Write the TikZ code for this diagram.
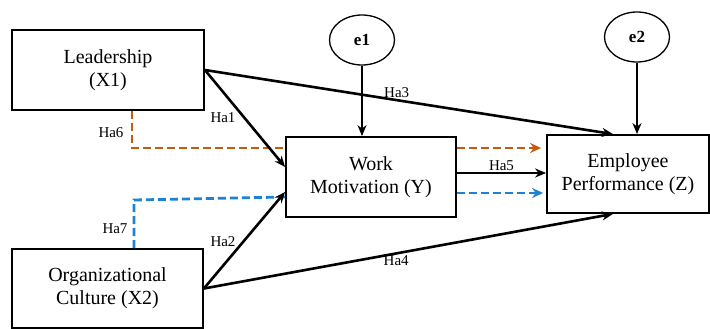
\documentclass[tikz,border=0pt]{standalone}
\usepackage{fontspec}
\setmainfont{Liberation Serif}
\usetikzlibrary{arrows.meta,calc,shapes.geometric}
\definecolor{orangeD}{RGB}{197,90,17}
\definecolor{blueD}{RGB}{30,130,210}
\begin{document}
\begin{tikzpicture}[x=1pt,y=-1pt,
  box/.style={draw,line width=1.8pt,fill=white,inner sep=0pt,align=center,
    font=\fontsize{20}{23}\selectfont},
  err/.style={draw,line width=1.3pt,ellipse,inner sep=0pt,minimum width=65pt,minimum height=50pt,
    font=\fontsize{17}{20}\selectfont\bfseries},
  path/.style={line width=2.6pt,-{Stealth[length=11pt,width=9pt]}},
  med/.style={line width=2.8pt,dash pattern=on 8pt off 4pt},
  medarr/.style={med,-{Stealth[length=11pt,width=10pt]}},
  lab/.style={font=\fontsize{15}{17}\selectfont,inner sep=1pt}]
\useasboundingbox (0,0) rectangle (710,329);
\node[box,minimum width=192pt,minimum height=80pt] (L) at (108,70) {Leadership\\(X1)};
\node[box,minimum width=191pt,minimum height=79pt] (O) at (107.5,288.5) {Organizational\\Culture (X2)};
\node[box,minimum width=170pt,minimum height=80pt] (W) at (371,177) {Work\\Motivation (Y)};
\node[box,minimum width=162pt,minimum height=78pt] (E) at (628,174) {Employee\\Performance (Z)};
\node[err] (e1) at (362,40) {e1};
\node[err] (e2) at (637,37) {e2};
% coordinates for dashed mediation paths
\coordinate (o1) at (132,148);
\coordinate (b1) at (134,200);
\draw[med,orangeD] (L.south -| o1) -- (o1) -- (W.west |- o1);
\draw[med,blueD] (O.north -| b1) -- (b1) -- ($(W.west)+(0,20)$);
\draw[medarr,orangeD] (W.east |- o1) -- ($(E.west |- o1)+(-5,0)$);
\draw[medarr,blueD] ($(W.east)+(0,16)$) -- ($(E.west)+(-3,19)$);
% direct paths
\draw[path] (e1) -- (W.north -| e1);
\draw[path] (e2) -- (E.north -| e2);
\draw[path] (L.east) -- ($(E.north)+(-15,0)$) node[lab,pos=0.47,above] {Ha3};
\draw[path] (L.east) -- ($(W.west)+(0,-10)$);
\draw[path] (O.east) -- ($(W.west)+(0,15)$);
\draw[path] (O.east) -- ($(E.south)+(-15,0)$) node[lab,pos=0.47,below] {Ha4};
\draw[path] ($(W.east)+(0,-4)$) -- ($(E.west)+(0,-1)$) node[lab,midway,above] {Ha5};
\node[lab] (h1) at (223,118) {Ha1};
\node[lab] (h2) at (223,242) {Ha2};
\node[lab] (h6) at (111,133) {Ha6};
\node[lab] (h7) at (115,229) {Ha7};
\end{tikzpicture}
\end{document}
